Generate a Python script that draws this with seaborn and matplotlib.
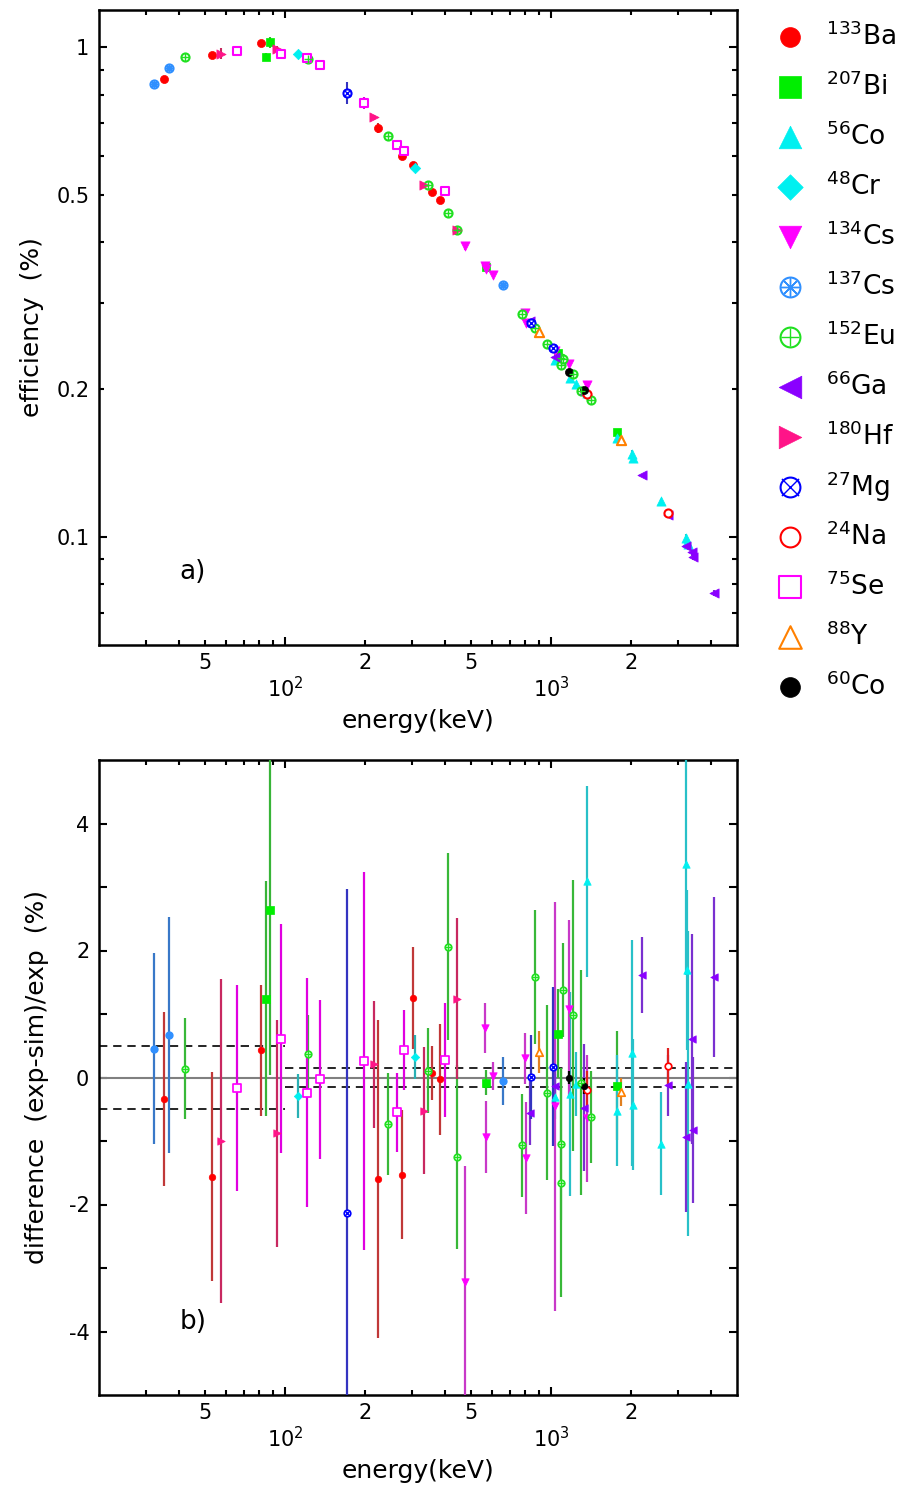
import numpy as np
import pandas as pd
import matplotlib
matplotlib.use("Agg")
import matplotlib.pyplot as plt
import seaborn as sns
from matplotlib.ticker import FixedLocator, FuncFormatter

sns.set_style("ticks")
plt.rcParams['font.family'] = ['DejaVu Sans']
plt.rcParams['mathtext.default'] = 'regular'
for key in ('text.color', 'axes.labelcolor', 'xtick.color', 'ytick.color', 'axes.edgecolor'):
    plt.rcParams[key] = 'black'

# ---------------- data ----------------
ba133_E = [35.0, 53.2, 81.0, 223.2, 276.4, 302.9, 356.0, 383.9]
ba133_eff = [0.860, 0.963, 1.020, 0.684, 0.599, 0.575, 0.506, 0.487]
ba133_diff = [-0.34, -1.56, 0.43, -1.60, -1.53, 1.25, 0.07, -0.03]
ba133_err = [1.37, 1.64, 1.03, 2.50, 1.02, 0.80, 0.43, 0.87]

bi207_E = [85.0, 88.0, 569.7, 1063.7, 1770.2]
bi207_eff = [0.954, 1.025, 0.355, 0.237, 0.1637]
bi207_diff = [1.24, 2.64, -0.08, 0.69, -0.13]
bi207_err = [1.85, 2.60, 0.20, 0.70, 0.86]

co56_E = [1037.8, 1175.1, 1238.3, 1360.2, 1771.4, 2015.2, 2034.8, 2598.5, 3202.0, 3253.4, 3273.0]
co56_eff = [0.230, 0.211, 0.2054, 0.197, 0.159, 0.1475, 0.145, 0.1185, 0.0995, 0.0977, 0.0965]
co56_diff = [-0.30, -0.26, -0.10, 3.09, -0.52, 0.39, -0.43, -1.04, 3.37, 1.69, -0.10]
co56_err = [0.35, 1.60, 0.50, 1.50, 0.88, 1.78, 1.03, 0.81, 1.75, 1.26, 2.40]

cr48_E = [112.3, 308.2]
cr48_eff = [0.970, 0.567]
cr48_diff = [-0.29, 0.32]
cr48_err = [0.35, 0.35]

cs134_E = [475.4, 563.2, 569.3, 604.7, 795.9, 801.9, 1038.6, 1168.0, 1365.2]
cs134_eff = [0.392, 0.357, 0.353, 0.3425, 0.286, 0.274, 0.240, 0.2254, 0.204]
cs134_diff = [-3.22, 0.78, -0.94, 0.02, 0.30, -1.27, -0.45, 1.08, -0.64]
cs134_err = [1.83, 0.40, 0.57, 0.22, 0.40, 0.88, 3.22, 1.40, 1.00]

cs137_E = [32.1, 36.6, 661.7]
cs137_eff = [0.841, 0.909, 0.3264]
cs137_diff = [0.455, 0.668, -0.05]
cs137_err = [1.51, 1.86, 0.38]

eu152_E = [42.1, 121.8, 244.7, 344.3, 411.1, 444.0, 778.9, 867.4, 964.1,
           1085.8, 1089.7, 1112.1, 1212.9, 1299.1, 1408.0]
eu152_eff = [0.955, 0.945, 0.659, 0.523, 0.458, 0.423, 0.285, 0.267, 0.248,
             0.2315, 0.2244, 0.2304, 0.215, 0.199, 0.190]
eu152_diff = [0.14, 0.37, -0.73, 0.11, 2.06, -1.25, -1.07, 1.58, -0.24,
              -1.05, -1.66, 1.38, 0.98, -0.08, -0.62]
eu152_err = [0.80, 0.62, 0.80, 0.67, 1.47, 1.45, 0.81, 1.06, 1.38,
             1.20, 1.80, 0.74, 2.13, 1.77, 0.73]

ga66_E = [833.5, 1039.2, 1333.1, 2189.6, 2751.8, 3228.8, 3380.9, 3422.0, 4086.1]
ga66_eff = [0.276, 0.2325, 0.196, 0.1335, 0.1107, 0.0957, 0.0930, 0.0908, 0.0768]
ga66_diff = [-0.56, -0.14, -0.48, 1.61, -0.12, -0.94, 0.61, -0.82, 1.59]
ga66_err = [0.50, 0.30, 1.00, 0.60, 0.48, 1.18, 1.65, 1.15, 1.26]

hf180_E = [57.3, 93.3, 215.3, 332.3, 443.2]
hf180_eff = [0.970, 0.990, 0.719, 0.523, 0.424]
hf180_diff = [-1.00, -0.88, 0.21, -0.52, 1.24]
hf180_err = [2.55, 1.79, 1.00, 1.00, 1.27]

mg27_E = [170.7, 843.8, 1014.4]
mg27_eff = [0.8065, 0.274, 0.2434]
mg27_diff = [-2.13, 0.01, 0.17]
mg27_err = [5.10, 0.66, 1.25]

na24_E = [1368.6, 2754.0]
na24_eff = [0.1956, 0.112]
na24_diff = [-0.19, 0.18]
na24_err = [0.30, 0.28]

se75_E = [66.05, 96.7, 121.1, 136.0, 198.6, 264.7, 279.5, 400.7]
se75_eff = [0.984, 0.969, 0.952, 0.922, 0.770, 0.632, 0.614, 0.508]
se75_diff = [-0.17, 0.61, -0.24, -0.03, 0.26, -0.55, 0.44, 0.28]
se75_err = [1.62, 1.80, 1.80, 1.25, 2.97, 0.62, 0.63, 0.90]

y88_E = [898.0, 1836.1]
y88_eff = [0.262, 0.1576]
y88_diff = [0.40, -0.23]
y88_err = [0.33, 0.22]

co60_E = [1173.2, 1332.5]
co60_eff = [0.2174, 0.1994]
co60_diff = [0.00, -0.13]
co60_err = [0.10, 0.13]

source_keys = ['Ba133', 'Bi207', 'Co56', 'Cr48', 'Cs134', 'Cs137', 'Eu152',
               'Ga66', 'Hf180', 'Mg27', 'Na24', 'Se75', 'Y88', 'Co60']
legend_labels = [r'$^{133}$Ba', r'$^{207}$Bi', r'$^{56}$Co', r'$^{48}$Cr',
                 r'$^{134}$Cs', r'$^{137}$Cs', r'$^{152}$Eu', r'$^{66}$Ga',
                 r'$^{180}$Hf', r'$^{27}$Mg', r'$^{24}$Na', r'$^{75}$Se',
                 r'$^{88}$Y', r'$^{60}$Co']
data_sets = {
    'Ba133': (ba133_E, ba133_eff, ba133_diff, ba133_err),
    'Bi207': (bi207_E, bi207_eff, bi207_diff, bi207_err),
    'Co56': (co56_E, co56_eff, co56_diff, co56_err),
    'Cr48': (cr48_E, cr48_eff, cr48_diff, cr48_err),
    'Cs134': (cs134_E, cs134_eff, cs134_diff, cs134_err),
    'Cs137': (cs137_E, cs137_eff, cs137_diff, cs137_err),
    'Eu152': (eu152_E, eu152_eff, eu152_diff, eu152_err),
    'Ga66': (ga66_E, ga66_eff, ga66_diff, ga66_err),
    'Hf180': (hf180_E, hf180_eff, hf180_diff, hf180_err),
    'Mg27': (mg27_E, mg27_eff, mg27_diff, mg27_err),
    'Na24': (na24_E, na24_eff, na24_diff, na24_err),
    'Se75': (se75_E, se75_eff, se75_diff, se75_err),
    'Y88': (y88_E, y88_eff, y88_diff, y88_err),
    'Co60': (co60_E, co60_eff, co60_diff, co60_err),
}

rows = []
for k in source_keys:
    E, ef, d, er = data_sets[k]
    for a, b, c, e in zip(E, ef, d, er):
        rows.append(dict(source=k, energy=a, eff=b, diff=c, err=e))
df = pd.DataFrame(rows)
df['eff_err'] = df['eff'] * df['err'] / 100.0

# ---------------- styles ----------------
styles = {
    'Ba133': dict(color='#ff0000', bar='#c03838', marker='o', fill=True),
    'Bi207': dict(color='#00ee00', bar='#38b438', marker='s', fill=True),
    'Co56': dict(color='#00f0f0', bar='#28c0c8', marker='^', fill=True),
    'Cr48': dict(color='#00f0f0', bar='#28b0b4', marker='D', fill=True),
    'Cs134': dict(color='#ff00ff', bar='#c838c8', marker='v', fill=True),
    'Cs137': dict(color='#3090ff', bar='#3878c8', marker='o', fill=False, overlay=(8, 2, 0)),
    'Eu152': dict(color='#20e020', bar='#38b838', marker='o', fill=False, overlay='+'),
    'Ga66': dict(color='#8a00ff', bar='#7a30d0', marker='<', fill=True),
    'Hf180': dict(color='#ff1488', bar='#c82860', marker='>', fill=True),
    'Mg27': dict(color='#0000ff', bar='#3434c0', marker='o', fill=False, overlay='x'),
    'Na24': dict(color='#ff0000', bar='#e02020', marker='o', fill=False),
    'Se75': dict(color='#ff00ff', bar='#e000e0', marker='s', fill=False),
    'Y88': dict(color='#ff8000', bar='#e08020', marker='^', fill=False),
    'Co60': dict(color='#000000', bar='#000000', marker='o', fill=True),
}
base_size = {'o': 34, 's': 40, '^': 44, 'v': 44, '<': 44, '>': 44, 'D': 28}


def draw_markers(ax, x, y, st, scale):
    s = base_size[st['marker']] * scale
    if st['fill']:
        sns.scatterplot(x=x, y=y, ax=ax, marker=st['marker'], s=s,
                        color=st['color'], edgecolor=st['color'], linewidth=0.5,
                        legend=False, zorder=4)
    else:
        sns.scatterplot(x=x, y=y, ax=ax, marker=st['marker'], s=s,
                        color=st['color'], facecolor='white', edgecolor=st['color'],
                        linewidth=1.3 * min(1.0, scale ** 0.5) + 0.2,
                        legend=False, zorder=4)
        if 'overlay' in st:
            sns.scatterplot(x=x, y=y, ax=ax, marker=st['overlay'], s=s * 0.75,
                            color=st['color'], linewidth=1.0, legend=False, zorder=5)


fig = plt.figure(figsize=(9.01, 14.94), dpi=100)
W, H = 901.0, 1494.0
ax1 = fig.add_axes([99 / W, 1 - 645 / H, 638 / W, 635 / H])
ax2 = fig.add_axes([99 / W, 1 - 1395 / H, 638 / W, 635 / H])
axl = fig.add_axes([760 / W, 1 - 712 / H, 141 / W, 700 / H])

# ---- panel a ----
for k in source_keys:
    st = styles[k]
    sub = df[df.source == k]
    ax1.errorbar(sub.energy, sub.eff, yerr=sub.eff_err, fmt='none',
                 ecolor=st['bar'], elinewidth=1.5, capsize=0, zorder=3)
for k in source_keys:
    st = styles[k]
    sub = df[df.source == k]
    draw_markers(ax1, sub.energy.values, sub.eff.values, st, 1.0)

ax1.set_xscale('log')
ax1.set_yscale('log')
ax1.set_xlim(20, 5000)
ax1.set_ylim(0.0601, 1.192)

# ---- panel b ----
for k in source_keys:
    st = styles[k]
    sub = df[df.source == k]
    ax2.errorbar(sub.energy, sub['diff'], yerr=sub.err, fmt='none',
                 ecolor=st['bar'], elinewidth=1.6, capsize=0, zorder=3)
for k in source_keys:
    st = styles[k]
    sub = df[df.source == k]
    draw_markers(ax2, sub.energy.values, sub['diff'].values, st, 0.65)

ax2.set_xscale('log')
ax2.set_xlim(20, 5000)
ax2.set_ylim(-5, 5)
ax2.axhline(0, color='#808080', lw=1.5, zorder=1)
band_low_E = [20, 100]
band_high_E = [100, 5000]
band_low = 0.5
band_high = 0.15
for sgn in (1, -1):
    ax2.plot(band_low_E, [sgn * band_low] * 2, color='black', lw=1.2,
             ls=(0, (5, 3.5)), zorder=2)
    ax2.plot(band_high_E, [sgn * band_high] * 2, color='black', lw=1.2,
             ls=(0, (5, 3.5)), zorder=2)

# ---- axes formatting ----
x_major = [100, 1000]
x_minor = [30, 40, 50, 60, 70, 80, 90, 200, 300, 400, 500, 600, 700, 800, 900,
           2000, 3000, 4000]
x_minor_lab = {50: '5', 200: '2', 500: '5', 2000: '2'}
x_major_lab = {100: r'$10^2$', 1000: r'$10^3$'}

for ax in (ax1, ax2):
    ax.xaxis.set_major_locator(FixedLocator(x_major))
    ax.xaxis.set_minor_locator(FixedLocator(x_minor))
    ax.xaxis.set_major_formatter(FuncFormatter(lambda v, p: x_major_lab.get(int(round(v)), '')))
    ax.xaxis.set_minor_formatter(FuncFormatter(lambda v, p: x_minor_lab.get(int(round(v)), '')))
    ax.tick_params(which='both', direction='in', top=True, right=True,
                   labelsize=15, width=1.5, colors='black')
    ax.tick_params(which='major', length=6)
    ax.tick_params(which='minor', length=3.5)
    ax.tick_params(axis='x', which='minor', pad=6)
    ax.tick_params(axis='x', which='major', pad=22)
    ax.tick_params(axis='y', which='both', pad=7)
    for sp in ax.spines.values():
        sp.set_linewidth(1.8)
        sp.set_color('black')
    ax.set_xlabel('energy(keV)', fontsize=18, labelpad=6, color='black')

y1_major = [0.1, 1]
y1_minor = [0.07, 0.08, 0.09, 0.2, 0.3, 0.4, 0.5, 0.6, 0.7, 0.8, 0.9]
y1_lab = {0.1: '0.1', 1.0: '1', 0.2: '0.2', 0.5: '0.5'}
ax1.yaxis.set_major_locator(FixedLocator(y1_major))
ax1.yaxis.set_minor_locator(FixedLocator(y1_minor))
ax1.yaxis.set_major_formatter(FuncFormatter(lambda v, p: y1_lab.get(round(v, 3), '')))
ax1.yaxis.set_minor_formatter(FuncFormatter(lambda v, p: y1_lab.get(round(v, 3), '')))
ax1.set_ylabel('efficiency  (%)', fontsize=18, labelpad=9, color='black')

y2_major = [-4, -2, 0, 2, 4]
y2_minor = [-3, -1, 1, 3]
ax2.yaxis.set_major_locator(FixedLocator(y2_major))
ax2.yaxis.set_minor_locator(FixedLocator(y2_minor))
ax2.yaxis.set_major_formatter(FuncFormatter(lambda v, p: '%d' % v))
ax2.tick_params(axis='y', which='minor', length=6)
ax2.set_ylabel('difference  (exp-sim)/exp  (%)', fontsize=18, labelpad=14, color='black')

ax1.text(0.147, 0.115, 'a)', transform=ax1.transAxes, fontsize=19,
         ha='center', va='center', color='black')
ax2.text(0.147, 0.115, 'b)', transform=ax2.transAxes, fontsize=19,
         ha='center', va='center', color='black')

# ---- legend panel ----
axl.set_xlim(0, 1)
axl.set_ylim(len(source_keys) - 0.5, -0.5)
axl.axis('off')
for i, k in enumerate(source_keys):
    st = styles[k]
    draw_markers(axl, np.array([0.213]), np.array([float(i)]), st, 6.0)
    axl.text(0.47, i, legend_labels[i], fontsize=19, ha='left', va='center',
             color='black')

fig.savefig('out.png', dpi=100)
